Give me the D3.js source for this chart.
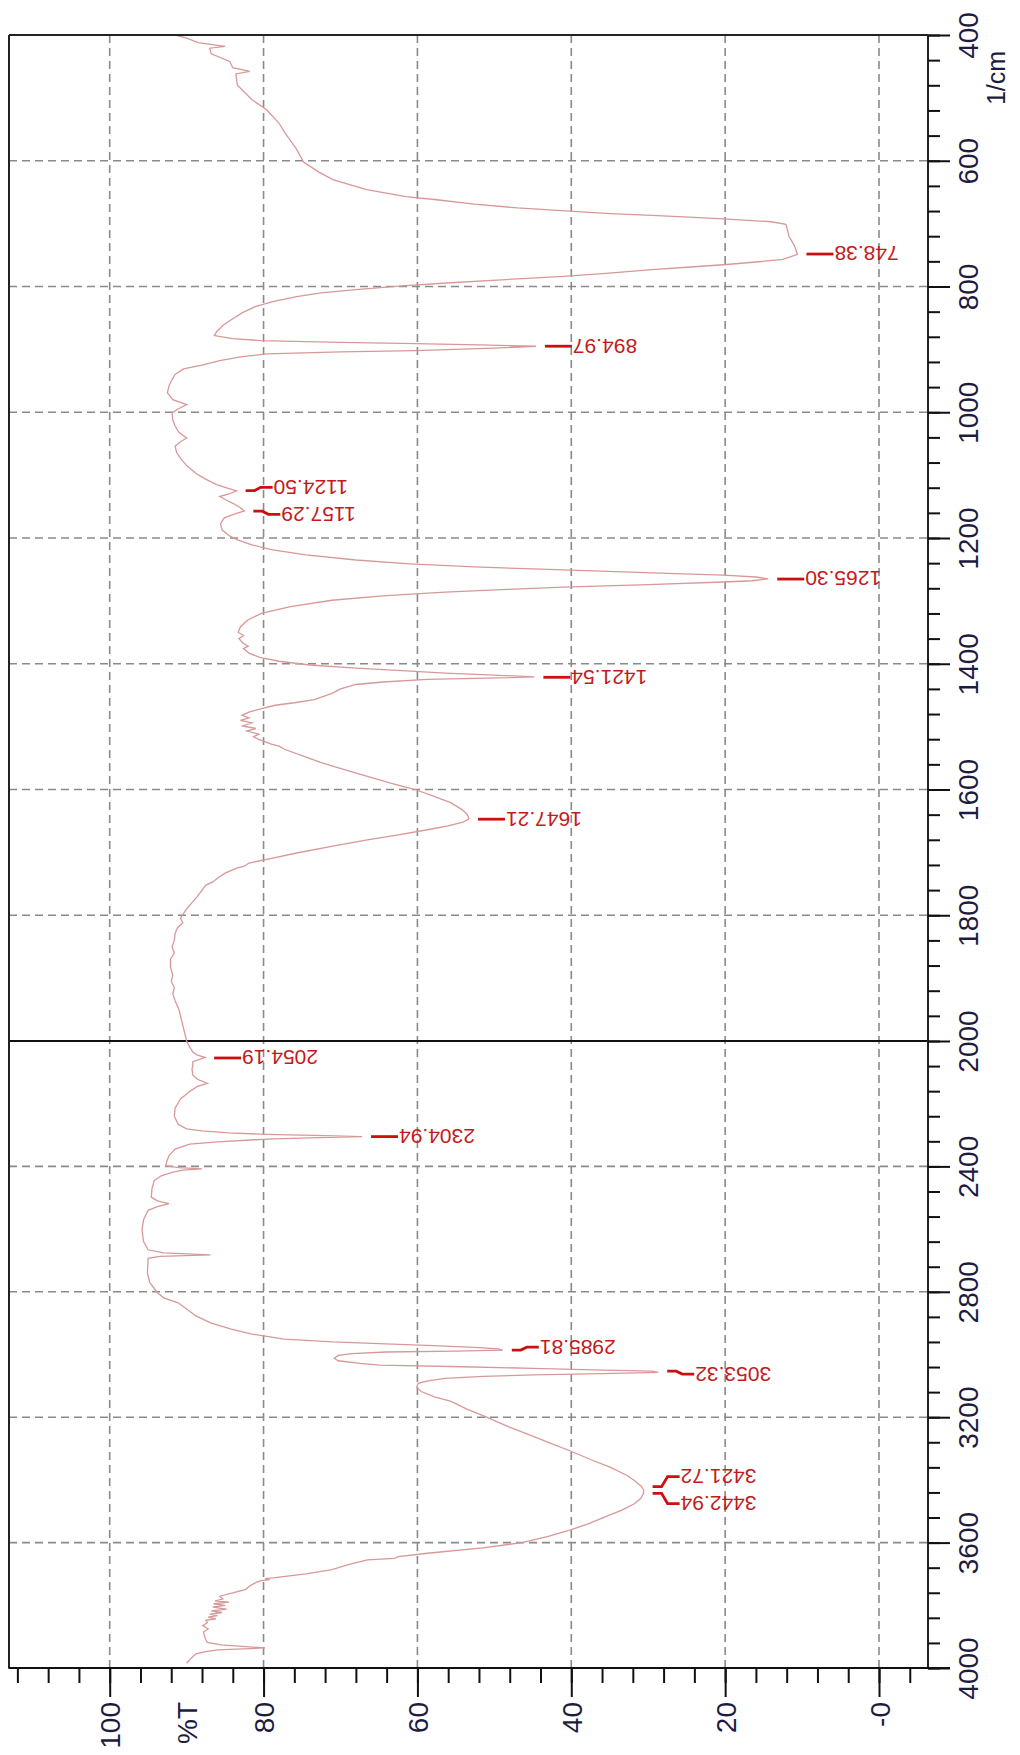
<!DOCTYPE html>
<html><head><meta charset="utf-8">
<script src="https://cdn.jsdelivr.net/npm/d3@7"></script>
<style>body{margin:0;background:#fff} svg{display:block}</style>
</head><body>
<svg id="c" width="1020" height="1755"></svg>
<script>
// ---- data ----
const wavenumbers = [400,405,412,418,421,430,442,452,458,462,480,503,519,540,556,580,602,618,630,646,657,662,669,675,679,684,687,690,693,697,701,710,720,735,749,757,761,765,769,773,779,784,789,794,799,805,810,816,824,832,842,853,862,872,878,883,886,889,891,893,895,898,902,904,907,912,918,925,931,940,948,958,969,980,988,994,1001,1012,1022,1032,1041,1047,1054,1064,1075,1086,1097,1106,1115,1121,1125,1130,1134,1140,1146,1152,1157,1162,1168,1177,1187,1196,1203,1211,1219,1227,1235,1241,1246,1250,1254,1257,1259,1262,1265,1268,1270,1274,1278,1282,1286,1292,1299,1309,1320,1330,1341,1350,1355,1360,1367,1372,1376,1383,1390,1396,1402,1407,1411,1415,1418,1421,1423,1425,1429,1433,1440,1447,1457,1462,1466,1472,1477,1482,1486,1490,1494,1499,1503,1507,1512,1516,1520,1528,1531,1536,1546,1557,1568,1579,1590,1600,1610,1621,1632,1640,1647,1652,1658,1664,1672,1680,1690,1701,1709,1717,1722,1725,1733,1741,1747,1752,1760,1770,1780,1790,1797,1805,1812,1820,1829,1840,1850,1860,1870,1883,1895,1905,1915,1925,1936,1950,1965,1980,2000,2015,2035,2045,2052,2058,2066,2077,2090,2108,2122,2135,2145,2161,2185,2214,2240,2266,2280,2287,2293,2298,2302,2305,2309,2312,2315,2322,2329,2345,2366,2385,2398,2404,2408,2412,2419,2430,2445,2470,2498,2510,2519,2528,2540,2570,2603,2640,2666,2676,2682,2687,2693,2740,2770,2803,2820,2835,2855,2877,2900,2919,2935,2951,2960,2966,2972,2977,2982,2986,2989,2992,2997,3003,3012,3020,3028,3034,3039,3044,3049,3053,3057,3061,3065,3070,3076,3084,3092,3105,3118,3135,3149,3175,3200,3230,3255,3280,3307,3335,3360,3385,3402,3420,3432,3443,3460,3476,3497,3518,3540,3560,3580,3600,3617,3634,3645,3650,3655,3670,3686,3700,3712,3715,3718,3722,3730,3740,3749,3760,3771,3780,3786,3790,3795,3800,3806,3812,3818,3823,3828,3833,3838,3843,3848,3855,3865,3875,3885,3897,3910,3918,3926,3936,3942,3948,3955,3971,3985,4000];
const transmittance = [91.5,90.0,88.5,85.0,87.0,86.8,84.4,84.0,81.8,83.6,83.4,81.5,79.6,78.0,77.2,75.8,74.8,72.8,71.0,66.6,61.5,57.5,52.6,47.0,41.8,35.0,29.5,24.0,19.8,14.0,12.1,11.9,11.7,11.0,10.6,12.5,16.0,19.8,24.5,29.5,35.5,41.0,48.5,55.7,62.0,68.0,72.5,75.7,78.8,81.1,82.8,84.2,85.3,86.1,86.4,84.0,80.3,70.0,60.3,52.0,44.6,50.0,60.3,70.0,79.6,83.0,85.7,88.0,90.4,91.5,91.9,92.3,92.5,91.8,90.0,91.0,91.9,91.8,91.5,91.0,90.0,90.8,91.5,91.3,90.7,89.9,88.8,87.6,86.1,84.6,83.5,84.5,85.7,84.8,83.8,83.0,82.5,83.8,85.1,85.6,85.4,84.5,83.4,81.5,78.8,74.5,68.0,61.0,52.6,43.0,33.3,25.5,20.2,16.0,14.4,16.5,20.2,30.0,41.0,49.0,56.4,64.5,71.1,76.5,80.3,82.0,83.0,83.3,82.6,83.2,82.7,82.0,82.6,81.9,80.5,78.0,74.0,68.0,62.0,56.4,50.0,44.8,51.0,58.7,64.5,68.0,70.0,71.1,73.4,76.0,78.5,80.5,81.9,82.8,81.9,83.0,81.5,82.7,81.0,82.2,80.6,81.3,80.7,79.0,78.0,77.3,75.0,72.6,69.6,66.5,63.5,60.3,58.0,55.7,54.2,53.5,53.3,54.1,56.0,58.7,62.5,66.5,71.0,75.7,78.8,81.9,82.5,83.5,85.0,86.0,86.6,87.5,88.0,88.6,89.3,90.0,90.4,90.8,90.5,91.2,91.5,91.6,91.9,91.6,92.1,92.1,91.8,92.0,91.6,91.8,91.5,91.0,90.7,90.4,90.0,89.7,89.2,88.6,87.6,88.2,89.2,89.2,89.3,89.2,88.6,87.3,88.6,89.6,90.8,91.5,91.6,91.1,90.0,88.0,84.5,79.6,72.0,67.2,74.0,78.5,81.1,86.0,89.6,91.5,92.3,92.6,92.7,91.0,88.0,90.5,91.9,93.3,94.2,94.5,94.6,93.8,92.3,93.8,95.0,95.6,95.8,95.6,95.0,93.0,86.9,93.5,95.0,95.1,94.8,93.8,92.9,91.1,90.0,88.8,86.8,84.2,81.5,77.3,71.0,64.1,58.0,52.6,49.5,48.9,55.0,64.1,68.5,70.3,70.8,70.3,67.5,64.9,54.1,45.0,37.2,29.5,28.7,36.0,44.9,51.5,56.4,58.6,59.9,60.1,59.5,57.8,55.7,53.5,51.0,48.2,45.6,43.0,40.2,37.5,34.9,32.8,31.8,30.9,30.6,30.6,31.0,31.8,33.5,35.6,37.8,40.2,43.0,46.4,51.5,58.7,62.5,63.0,66.5,69.0,71.1,74.5,78.5,79.8,79.2,80.5,81.2,81.9,82.3,84.0,85.7,85.3,86.3,84.5,86.5,85.0,86.6,84.8,86.8,85.4,87.0,86.0,87.2,86.2,87.5,87.3,87.9,87.2,87.8,87.7,87.5,87.3,85.5,79.8,86.0,87.5,88.8,89.5,90.0];

const peakWavenumbers = [748.38, 894.97, 1124.50, 1157.29, 1265.30, 1421.54, 1647.21, 2054.19, 2304.94, 2985.81, 3053.32, 3421.72, 3442.94];
const peakTransmittance = [10.6, 44.6, 83.5, 82.5, 14.4, 44.8, 53.3, 87.6, 67.2, 48.9, 28.7, 30.6, 30.6];
const peakLabels = ["748.38","894.97","1124.50","1157.29","1265.30","1421.54","1647.21","2054.19","2304.94","2985.81","3053.32","3421.72","3442.94"];

const wnMajorTicks = [400,600,800,1000,1200,1400,1600,1800,2000,2400,2800,3200,3600,4000];
const wnMinorTicks = [400,440,480,520,560,600,640,680,720,760,800,840,880,920,960,1000,1040,1080,1120,1160,1200,1240,1280,1320,1360,1400,1440,1480,1520,1560,1600,1640,1680,1720,1760,1800,1840,1880,1920,1960,2000,2080,2160,2240,2320,2400,2480,2560,2640,2720,2800,2880,2960,3040,3120,3200,3280,3360,3440,3520,3600,3680,3760,3840,3920,4000];
const wnGridLines = [600,800,1000,1200,1400,1600,1800,2400,2800,3200,3600];
const tMajorTicks = [100,80,60,40,20,0];
const tMajorLabels = ["100","80","60","40","20","-0"];
const tMinorTicks = [112,108,104,100,96,92,88,84,80,76,72,68,64,60,56,52,48,44,40,36,32,28,24,20,16,12,8,4,0,-4];
const splitWavenumber = 2000;

// ---- layout ----
const L = 9, T = 35, R = 928, B = 1668;
const FONT = "'Liberation Sans', Arial, sans-serif";
const svg = d3.select("#c");

const x = d3.scaleLinear().domain([100, 0]).range([109.7, 879]);
const y = d3.scaleLinear().domain([400, 2000, 4000]).range([T, 1041, B]);

// grid
const grid = svg.append("g").attr("stroke", "#8a8a8a").attr("stroke-width", 1.6).attr("stroke-dasharray", "8,5");
grid.selectAll("line.v").data(tMajorTicks).join("line")
  .attr("x1", d => x(d)).attr("x2", d => x(d)).attr("y1", T).attr("y2", B);
grid.selectAll("line.h").data(wnGridLines).join("line")
  .attr("x1", L).attr("x2", R).attr("y1", d => y(d)).attr("y2", d => y(d));

// split line at 2000
svg.append("line").attr("x1", L).attr("x2", R).attr("y1", y(splitWavenumber)).attr("y2", y(splitWavenumber))
  .attr("stroke", "#111").attr("stroke-width", 2);

// spectrum
const pts = wavenumbers.map((w, i) => ({w, t: transmittance[i]}));
svg.append("path").datum(pts)
  .attr("fill", "none").attr("stroke", "#d99898").attr("stroke-width", 1.3)
  .attr("d", d3.line().x(d => x(d.t)).y(d => y(d.w)));

// frame
const frame = svg.append("g").attr("stroke", "#222").attr("stroke-width", 2);
frame.append("line").attr("x1", L).attr("x2", L).attr("y1", T).attr("y2", B);
frame.append("line").attr("x1", L).attr("x2", R).attr("y1", T).attr("y2", T);
frame.append("line").attr("x1", R).attr("x2", R).attr("y1", T).attr("y2", B);
frame.append("line").attr("x1", L).attr("x2", R).attr("y1", B).attr("y2", B);

// wavenumber axis (right)
const wnMinor = svg.append("g").attr("transform", `translate(${R},0)`)
  .call(d3.axisRight(y).tickValues(wnMinorTicks).tickSize(12).tickFormat(""));
wnMinor.select(".domain").remove();
wnMinor.selectAll("line").attr("stroke", "#111").attr("stroke-width", 2);
const wnMajor = svg.append("g").attr("transform", `translate(${R},0)`)
  .call(d3.axisRight(y).tickValues(wnMajorTicks).tickSize(22).tickFormat(d => String(d)));
wnMajor.select(".domain").remove();
wnMajor.selectAll("line").attr("stroke", "#111").attr("stroke-width", 2);
wnMajor.attr("font-family", FONT).attr("font-size", 28);
wnMajor.selectAll("text").attr("x", null).attr("dy", null)
  .attr("fill", "#1c1c40").attr("text-anchor", "middle")
  .attr("transform", "translate(50,0) rotate(-90)");

svg.append("text").attr("transform", `translate(1005,${T + 43}) rotate(-90)`)
  .attr("text-anchor", "middle").attr("font-family", FONT).attr("font-size", 25)
  .attr("fill", "#1c1c40").text("1/cm");

// %T axis (bottom)
const tMinor = svg.append("g").attr("transform", `translate(0,${B})`)
  .call(d3.axisBottom(x).tickValues(tMinorTicks).tickSize(15).tickFormat(""));
tMinor.select(".domain").remove();
tMinor.selectAll("line").attr("stroke", "#111").attr("stroke-width", 2);
const tMajor = svg.append("g").attr("transform", `translate(0,${B})`)
  .call(d3.axisBottom(x).tickValues(tMajorTicks).tickSize(29).tickFormat((d, i) => tMajorLabels[i]));
tMajor.select(".domain").remove();
tMajor.selectAll("line").attr("stroke", "#111").attr("stroke-width", 2);
tMajor.attr("font-family", FONT).attr("font-size", 28);
tMajor.selectAll("text").attr("y", null).attr("dy", null)
  .attr("fill", "#1c1c40").attr("text-anchor", "end")
  .attr("transform", "translate(10,34) rotate(-90)");
svg.append("line").attr("x1", x(112) - 9).attr("x2", R + 22).attr("y1", B).attr("y2", B)
  .attr("stroke", "#111").attr("stroke-width", 2);

svg.append("text").attr("transform", `translate(${x(90) + 10},${B + 34}) rotate(-90)`)
  .attr("text-anchor", "end").attr("font-family", FONT).attr("font-size", 28)
  .attr("fill", "#1c1c40").text("%T");

// peak labels
const peaks = peakWavenumbers.map((w, i) => ({w, t: peakTransmittance[i], label: peakLabels[i], yp: y(w)}));
peaks.forEach(p => p.yt = p.yp);
for (let i = 1; i < peaks.length; i++) {
  const a = peaks[i - 1], b = peaks[i];
  if (b.yt - a.yt < 24) {
    const mid = (a.yp + b.yp) / 2;
    a.yt = mid - 13.5; b.yt = mid + 13.5;
  }
}
const pg = svg.append("g");
peaks.forEach(p => {
  const x0 = x(p.t) + 9;
  pg.append("polyline")
    .attr("points", [[x0, p.yp], [x0 + 9, p.yp], [x0 + 15, p.yt], [x0 + 27, p.yt]].map(q => q.join(",")).join(" "))
    .attr("fill", "none").attr("stroke", "#cc1010").attr("stroke-width", 2.8);
  pg.append("text")
    .attr("transform", `translate(${x0 + 28},${p.yt}) rotate(180)`)
    .attr("text-anchor", "end").attr("dy", "0.36em")
    .attr("font-family", FONT).attr("font-size", 21).attr("fill", "#c41a1a")
    .text(p.label);
});
</script>
</body></html>
